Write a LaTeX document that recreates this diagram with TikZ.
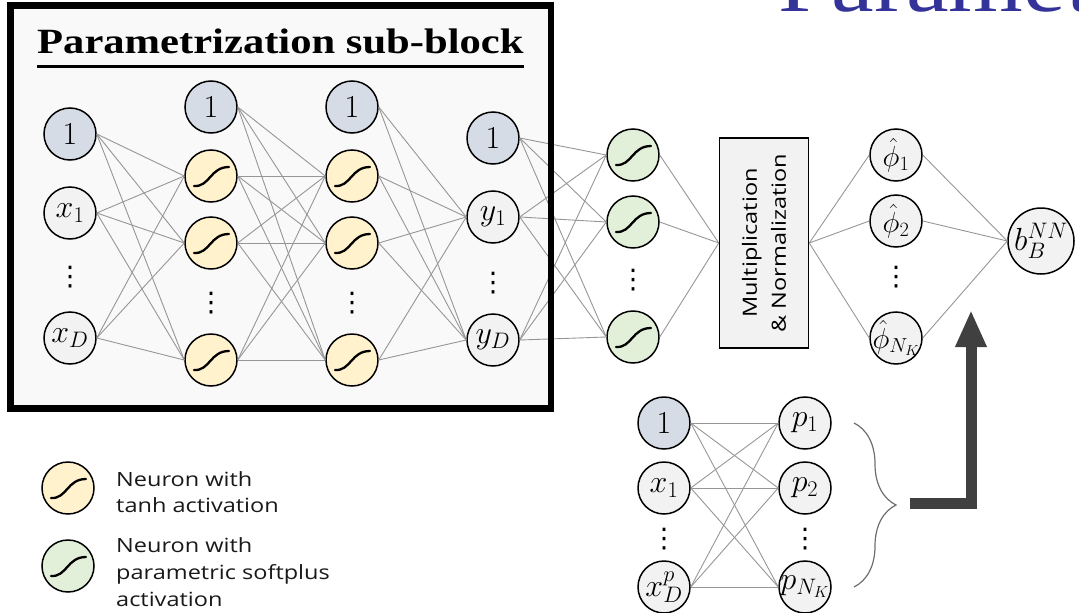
\RequirePackage{fix-cm}
\documentclass[tikz,border=0pt]{standalone}
\usepackage{fontspec}
\setmainfont{Liberation Serif}
\newfontfamily\titlef[FakeStretch=1.2]{Liberation Serif}
\newfontfamily\sansx[FakeStretch=1.2]{Open Sans}
\newfontfamily\djv{DejaVu Sans}
\usetikzlibrary{decorations.pathreplacing,arrows.meta}
\definecolor{biasc}{RGB}{214,220,229}
\definecolor{valc}{RGB}{242,242,242}
\definecolor{tanhc}{RGB}{255,242,204}
\definecolor{greenc}{RGB}{226,240,217}
\definecolor{edgec}{RGB}{150,150,150}
\definecolor{boxbg}{RGB}{249,249,249}
\definecolor{bluec}{RGB}{51,51,153}
\definecolor{arrc}{RGB}{64,64,64}
\definecolor{bracec}{RGB}{110,110,110}
\newcommand{\lbl}[1]{\makebox[0pt]{$#1$}}
\begin{document}
\begin{tikzpicture}[x=1pt,y=-1pt,
  neuron/.style={circle, draw=black, line width=1.5pt, minimum size=52pt, inner sep=0pt,
     font=\fontsize{32}{32}\selectfont},
  bias/.style={neuron, fill=biasc},
  val/.style={neuron, fill=valc},
  phin/.style={val, font=\fontsize{29}{29}\selectfont},
  sig/.style={neuron, path picture={\draw[line width=2.3pt, line cap=round, shift={(path picture bounding box.center)}]
      (-17pt,-10pt) .. controls (-1pt,-11pt) and (-1pt,9pt) .. (18pt,9pt);}},
  tanhn/.style={sig, fill=tanhc},
  greenn/.style={sig, fill=greenc},
  vdt/.style={inner sep=0pt, font=\djv\fontsize{27}{27}\selectfont},
  edge/.style={draw=edgec, line width=0.9pt},
  legtext/.style={anchor=base west, inner sep=0pt, font=\sansx\fontsize{19.6}{19.6}\selectfont, text=black!90},
  mnbox/.style={draw=black, fill=valc, line width=1.5pt, minimum width=210pt, minimum height=89pt,
     align=center, font=\sansx\fontsize{19.6}{29}\selectfont, inner sep=0pt},
  bigarrow/.style={draw=arrc, line width=11pt, line join=miter, -{Triangle[length=37pt,width=29pt]}},
  bracedec/.style={draw=bracec, line width=1.2pt, decorate, decoration={brace, amplitude=42pt, aspect=0.5}}
]
\useasboundingbox (0,0) rectangle (1079,613);
\clip (0,0) rectangle (1079,613);

% background of the sub-block
\fill[boxbg] (10.5,5.5) rectangle (551,408.5);

% partial heading at top right
\node[anchor=base west, inner sep=0pt, text=bluec, font=\titlef\fontsize{80}{80}\selectfont] (hdr) at (778,11) {Parametrization};

% title
\node[anchor=base west, inner sep=0pt, font=\titlef\bfseries\fontsize{35.5}{35.5}\selectfont] (title) at (37,53) {Parametrization sub-block};
\draw[line width=3pt] ([yshift=-13.5pt]title.base west) -- ([yshift=-13.5pt]title.base east);

% input layer
\node[bias] (in1) at (70,134) {\lbl{1}};
\node[val]  (ix1) at (70,213) {\lbl{x_1}};
\node[vdt]  (d0)  at (70,277) {⋮};
\node[val]  (ixD) at (70,338) {\lbl{x_D}};

% hidden layer 1
\node[bias]  (b1)  at (211,107) {\lbl{1}};
\node[tanhn] (t1a) at (211,176) {};
\node[tanhn] (t1b) at (211,243) {};
\node[vdt]   (d1)  at (211,303) {⋮};
\node[tanhn] (t1c) at (211,360) {};

% hidden layer 2
\node[bias]  (b2)  at (352,107) {\lbl{1}};
\node[tanhn] (t2a) at (352,176) {};
\node[tanhn] (t2b) at (352,243) {};
\node[vdt]   (d2)  at (352,303) {⋮};
\node[tanhn] (t2c) at (352,360) {};

% output of sub-block
\node[bias] (b3) at (493,138) {\lbl{1}};
\node[val]  (y1) at (493,217) {\lbl{y_1}};
\node[vdt]  (d3) at (493,283) {⋮};
\node[val]  (yD) at (493,340) {\lbl{y_D}};

% softplus layer
\node[greenn] (g1) at (633,155) {};
\node[greenn] (g2) at (633,222) {};
\node[vdt]    (d4) at (633,280) {⋮};
\node[greenn] (g3) at (633,337) {};

% multiplication and normalization
\node[mnbox, rotate=90] (mn) at (764,243) {Multiplication\\\& Normalization};

% phi layer
\node[phin] (f1) at (896,155) {\lbl{\hat{\phi}_1}};
\node[phin] (f2) at (896,221) {\lbl{\hat{\phi}_2}};
\node[vdt]  (d5) at (896,277) {⋮};
\node[phin] (f3) at (896,338) {\lbl{\hat{\phi}_{N_K}}};

% output
\node[val, minimum size=66pt] (bNN) at (1041,241) {\lbl{b_B^{NN}}};

% bottom network
\node[bias] (c1)  at (664,423) {\lbl{1}};
\node[val]  (cx1) at (664,488) {\lbl{x_1}};
\node[vdt]  (d6)  at (664,539) {⋮};
\node[val]  (cxD) at (664,587) {\lbl{x_D^p}};
\node[val]  (p1)  at (805,423) {\lbl{p_1}};
\node[val]  (p2)  at (805,488) {\lbl{p_2}};
\node[vdt]  (d7)  at (805,539) {⋮};
\node[val]  (pNK) at (805,587) {\lbl{p_{N_K}}};

% connectors
\foreach \a in {in1,ix1,ixD} \foreach \b in {t1a,t1b,t1c} \draw[edge] (\a.east) -- (\b.west);
\foreach \a in {b1,t1a,t1b,t1c} \foreach \b in {t2a,t2b,t2c} \draw[edge] (\a.east) -- (\b.west);
\foreach \a in {b2,t2a,t2b,t2c} \foreach \b in {y1,yD} \draw[edge] (\a.east) -- (\b.west);
\foreach \a in {b3,y1,yD} \foreach \b in {g1,g2,g3} \draw[edge] (\a.east) -- (\b.west);
\foreach \a in {g1,g2,g3} \draw[edge] (\a.east) -- (mn.north);
\foreach \b in {f1,f2,f3} \draw[edge] (mn.south) -- (\b.west);
\foreach \a in {f1,f2,f3} \draw[edge] (\a.east) -- (bNN.west);
\foreach \a in {c1,cx1,cxD} \foreach \b in {p1,p2,pNK} \draw[edge] (\a.east) -- (\b.west);

% frame of the sub-block
\draw[line width=6.5pt] (10.5,5.5) rectangle (551,408.5);

% brace and thick arrow
\coordinate (bt) at (854,423);
\coordinate (bb) at (854,587);
\draw[bracedec] (bt) -- (bb);
\coordinate (arrS) at (910,503.5);
\coordinate (arrE) at (971,310);
\draw[bigarrow] (arrS) -| (arrE);

% legend
\node[tanhn]  (ltanh)  at (68,488) {};
\node[legtext] (lt1) at (116,486) {Neuron with};
\node[legtext] (lt2) at (116,512) {tanh activation};
\node[greenn] (lgreen) at (68,566) {};
\node[legtext] (lg1) at (116,552) {Neuron with};
\node[legtext] (lg2) at (116,579) {parametric softplus};
\node[legtext] (lg3) at (116,606) {activation};
\end{tikzpicture}
\end{document}
